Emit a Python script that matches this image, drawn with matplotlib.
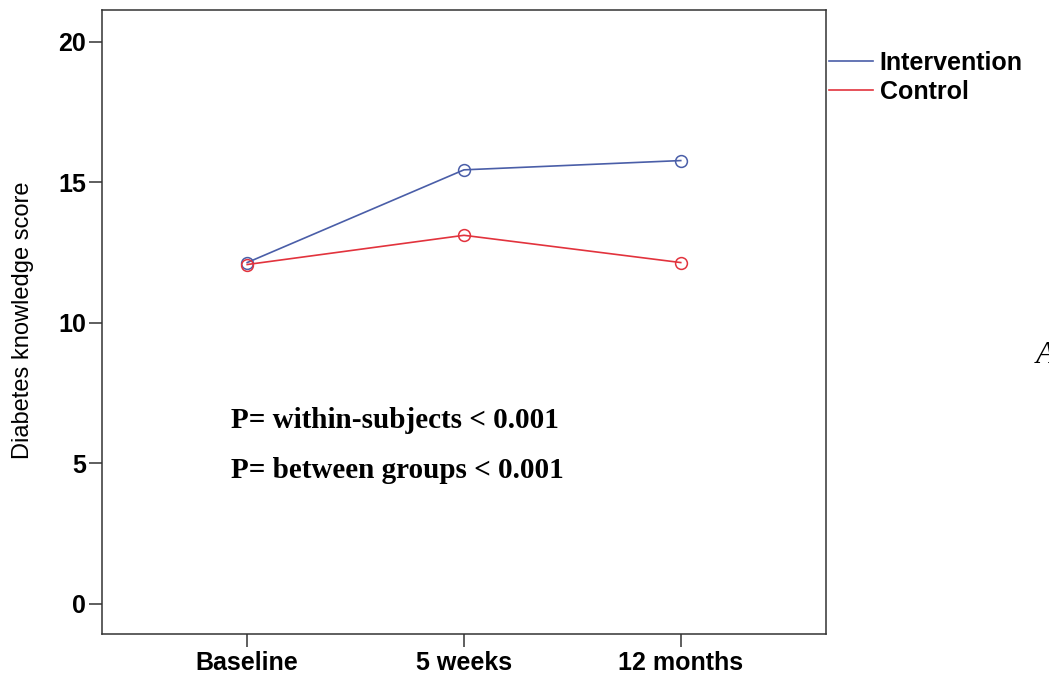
import matplotlib
matplotlib.use("Agg")
import matplotlib.pyplot as plt
from matplotlib.lines import Line2D

# --- data ---
timepoints = ["Baseline", "5 weeks", "12 months"]
intervention = [12.15, 15.45, 15.78]
control = [12.08, 13.12, 12.15]
series_names = ["Intervention", "Control"]
y_ticks = [0, 5, 10, 15, 20]
stats_lines = ["P= within-subjects < 0.001", "P= between groups < 0.001"]

blue = "#4a5ea8"
red = "#e2333d"
sans = ["Liberation Sans", "DejaVu Sans"]
serif = ["Liberation Serif", "DejaVu Serif"]

fig = plt.figure(figsize=(10.49, 6.78), dpi=100)
ax = fig.add_axes([0.0972, 0.0649, 0.6902, 0.9204])

x = range(len(timepoints))
for vals, col in [(intervention, blue), (control, red)]:
    ax.plot(x, vals, color=col, lw=1.2, marker="o", ms=8.5,
            mfc="none", mec=col, mew=1.1)

ax.set_xlim(-0.67, 2.67)
ax.set_ylim(-1.07, 21.14)
ax.set_xticks(list(x))
ax.set_xticklabels(timepoints)
ax.set_yticks(y_ticks)
ax.set_yticklabels([str(v) for v in y_ticks])

for lab in ax.get_xticklabels() + ax.get_yticklabels():
    lab.set_family(sans)
    lab.set_fontweight("bold")
    lab.set_fontsize(18)
ax.tick_params(axis="both", direction="out", length=9.5, width=1.1,
               color="#333333", pad=2)
ax.tick_params(axis="x", pad=3)
for sp in ax.spines.values():
    sp.set_linewidth(1.1)
    sp.set_color("#333333")

# y label placed in figure pixels so it lines up with the reference
fig.text(23 / 1049, 1 - 320 / 678, "Diabetes knowledge score", family=sans,
         fontsize=17, rotation=90, ha="center", va="center")

# legend sits outside the plot box, lines only
handles = [Line2D([], [], color=blue, lw=1.2), Line2D([], [], color=red, lw=1.2)]
ax.legend(handles, series_names, loc="upper left", bbox_to_anchor=(1.004, 0.934),
          frameon=False, borderaxespad=0, borderpad=0, handlelength=1.75,
          handletextpad=0.28, labelspacing=0.18,
          prop={"family": sans, "weight": "bold", "size": 18})

# added annotations (serif text on top of the chart)
fig.text(231 / 1049, 1 - 428 / 678, stats_lines[0], family=serif,
         fontweight="bold", fontsize=21, va="baseline")
fig.text(231 / 1049, 1 - 478 / 678, stats_lines[1], family=serif,
         fontweight="bold", fontsize=21, va="baseline")
fig.text(1036 / 1049, 1 - 363 / 678, "A", family=serif, style="italic",
         fontsize=23, va="baseline")

fig.savefig("out.png", dpi=100)
